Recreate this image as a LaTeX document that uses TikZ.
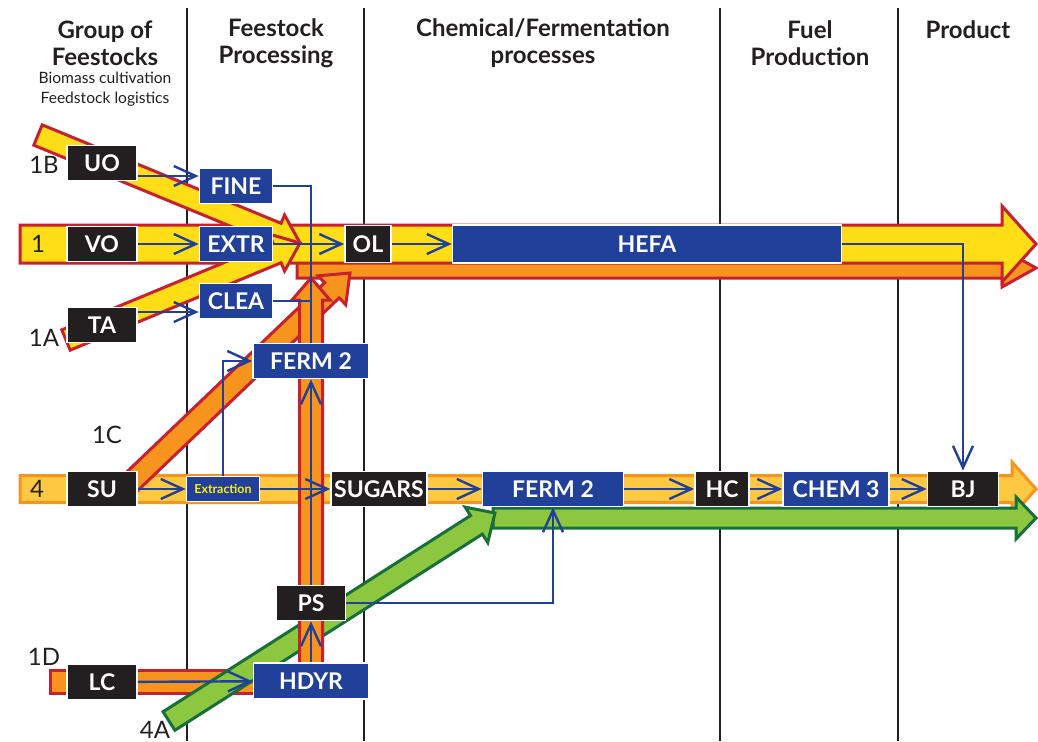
\documentclass[tikz,border=0pt]{standalone}
\usepackage{fontspec}
\setmainfont{Lato}
\usepackage{tikz}
\usetikzlibrary{arrows.meta,calc}

\definecolor{oilyellow}{HTML}{FFDE17}
\definecolor{oilred}{HTML}{C8202F}
\definecolor{oilorange}{HTML}{F7941D}
\definecolor{sugarfill}{HTML}{FFC843}
\definecolor{lcgreen}{HTML}{8DC63F}
\definecolor{lcdark}{HTML}{17703A}
\definecolor{stepblue}{HTML}{21409A}
\definecolor{stepblack}{HTML}{231F20}
\definecolor{tagyellow}{HTML}{FFF200}

\tikzstyle{stage}=[rectangle, draw=white, line width=0.8pt, inner sep=0pt, minimum height=17.5pt, text=white, font=\fontsize{11.5}{13}\selectfont\bfseries]
\tikzstyle{feed}=[stage, fill=stepblack, minimum width=35pt]
\tikzstyle{proc}=[stage, fill=stepblue, minimum width=36.5pt]
\tikzstyle{flow}=[draw=stepblue, line width=1.2pt, -{Straight Barb[length=11pt,width=10pt]}]
\tikzstyle{feedline}=[flow, -]
\tikzstyle{divider}=[draw=stepblack, line width=1.1pt]
\tikzstyle{yellowband}=[fill=oilyellow, draw=oilred, line width=1.5pt, line join=miter]
\tikzstyle{orangeband}=[yellowband, fill=oilorange]
\tikzstyle{sugarband}=[fill=sugarfill, draw=oilorange, line width=1.5pt, line join=miter]
\tikzstyle{greenband}=[fill=lcgreen, draw=lcdark, line width=1.5pt, line join=miter]
\tikzstyle{colhead}=[align=center, text=stepblack, font=\fontsize{12}{13.5}\selectfont\bfseries]
\tikzstyle{route}=[text=stepblack, font=\fontsize{12}{13}\selectfont]

% fat arrow: style, tail, tip, half shaft, head length, half head
\newcommand\fatarrow[6]{%
  \coordinate (fa base) at ($(#3)!#5!(#2)$);
  \path[#1] ($(#2)!#4!90:(#3)$) -- ($(fa base)!#4!90:(#3)$) -- ($(fa base)!#6!90:(#3)$) -- (#3)
    -- ($(fa base)!#6!-90:(#3)$) -- ($(fa base)!#4!-90:(#3)$) -- ($(#2)!#4!-90:(#3)$) -- cycle;}

\begin{document}
\begin{tikzpicture}[x=0.5pt, y=-0.5pt]
  \useasboundingbox (0,0) rectangle (1038,741);

  % column headers
  \node[colhead] (hFeed) at (105,43) {Group of\\Feestocks};
  \node[align=center, text=stepblack, font=\fontsize{7.8}{10}\selectfont] (hFeedSub) at (105,89) {Biomass cultivation\\Feedstock logistics};
  \node[colhead] (hProc) at (276,43) {Feestock\\Processing};
  \node[colhead] (hChem) at (543,43) {Chemical/Fermentation\\processes};
  \node[colhead] (hFuel) at (810,43) {Fuel\\Production};
  \node[colhead] (hProd) at (968,30) {Product};

  \foreach \xd in {187,364,720,898}
    \draw[divider] (\xd,8) -- (\xd,741);

  % routes
  \fatarrow{sugarband}{20,489}{1036,489}{6.75pt}{12pt}{13.5pt}
  \fatarrow{greenband}{493,518}{1036,518}{5pt}{10pt}{10.5pt}
  \path[orangeband] (50,670) rectangle (322,693);
  \fatarrow{greenband}{169,721}{495,513}{5.5pt}{11pt}{10.5pt}
  \fatarrow{orangeband}{297,268}{1036,268}{5pt}{17pt}{9.5pt}
  \fatarrow{orangeband}{120,493}{350,273}{5.25pt}{12.5pt}{10pt}
  \fatarrow{orangeband}{311,682}{311,278}{5.75pt}{11pt}{9.5pt}
  \fatarrow{yellowband}{20,244}{1036,244}{9.5pt}{17pt}{19pt}
  \fatarrow{yellowband}{38,135}{300,243}{5.5pt}{12.5pt}{10pt}
  \fatarrow{yellowband}{66,340}{300,243}{5.5pt}{12.5pt}{10pt}

  \node[route] (r1) at (38,244) {1};
  \node[route] (r4) at (37,489) {4};
  \node[route] (r1B) at (44,165) {1B};
  \node[route] (r1A) at (44,338) {1A};
  \node[route] (r1C) at (107,435) {1C};
  \node[route] (r1D) at (44,657) {1D};
  \node[route] (r4A) at (155,730) {4A};

  % feedstocks
  \node[feed] (UO) at (102,163) {UO};
  \node[feed] (VO) at (102,244) {VO};
  \node[feed] (TA) at (102,325) {TA};
  \node[feed] (SU) at (102,489) {SU};
  \node[feed] (LC) at (102,682) {LC};

  % processing steps
  \node[proc] (FINE) at (236,186) {FINE};
  \node[proc] (EXTR) at (236,244) {EXTR};
  \node[proc] (CLEA) at (236,301) {CLEA};
  \node[feed, minimum width=23pt, minimum height=18.5pt] (OL) at (368,244) {OL};
  \node[proc, minimum width=194.5pt, minimum height=19pt] (HEFA) at (647,244) {HEFA};
  \node[proc, minimum width=58pt] (FERMa) at (311,361) {FERM 2};
  \node[proc, minimum height=12.5pt, text=tagyellow, font=\fontsize{6.2}{7}\selectfont\bfseries] (EXTN) at (223,489) {Extraction};
  \node[feed, minimum width=48pt] (SUGARS) at (379,489) {SUGARS};
  \node[proc, minimum width=70.5pt] (FERMb) at (553,489) {FERM 2};
  \node[feed, minimum width=27pt] (HC) at (722,489) {HC};
  \node[proc, minimum width=53pt] (CHEM) at (836,489) {CHEM 3};
  \node[feed, minimum width=35.5pt] (BJ) at (963,489) {BJ};
  \node[feed, minimum width=34.5pt] (PS) at (311,603) {PS};
  \node[proc, minimum width=57.5pt, minimum height=18pt] (HDYR) at (311,681) {HDYR};

  % flows
  \draw[flow] ([yshift=-6.5pt]UO.east) -- ([yshift=5pt]FINE.west);
  \draw[flow] (VO) -- (EXTR);
  \draw[flow] ([yshift=6.5pt]TA.east) -- ([yshift=-5.5pt]CLEA.west);
  \draw[flow] (EXTR) -- (OL);
  \draw[flow] (OL) -- (HEFA);
  \draw[feedline] (FINE.east) -| (FERMa.north);
  \draw[feedline] (CLEA.east) -- (CLEA.east -| FERMa.north);
  \draw[flow] (SU) -- (EXTN);
  \draw[flow] (EXTN) -- (SUGARS);
  \draw[flow] (EXTN.north) |- (FERMa.west);
  \draw[flow] (HDYR) -- (PS);
  \draw[flow] (PS) -- (FERMa);
  \draw[flow] (SUGARS) -- (FERMb);
  \draw[flow] (FERMb) -- (HC);
  \draw[flow] (HC) -- (CHEM);
  \draw[flow] (CHEM) -- (BJ);
  \draw[flow] (HEFA.east) -| (BJ.north);
  \draw[flow] (PS.east) -| (FERMb.south);
  \draw[flow] (LC) -- (HDYR);
\end{tikzpicture}
\end{document}
